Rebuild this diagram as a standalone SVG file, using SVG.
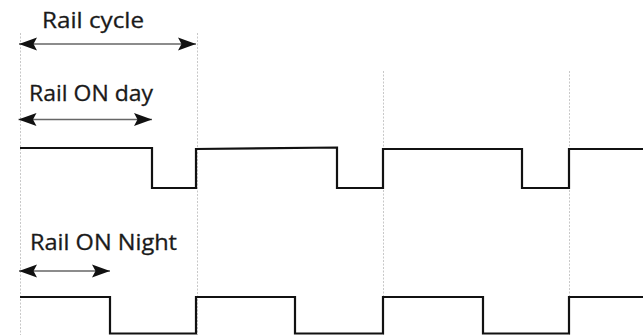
<svg xmlns="http://www.w3.org/2000/svg" width="643" height="335" viewBox="0 0 643 335">
<defs>
<style>
.lbl{font-family:"Open Sans","Liberation Sans",sans-serif;font-size:22px;fill:#1a1a1a;stroke:#1a1a1a;stroke-width:0.3}
.grid{stroke:#c8c8c8;stroke-width:1;stroke-dasharray:2 1.5;fill:none}
.dim{stroke:#666;stroke-width:1.4;fill:none}
.wave{stroke:#111;stroke-width:2.2;fill:none;stroke-linejoin:miter}
</style>
<marker id="ah" viewBox="0 0 18 14" refX="18" refY="7" markerWidth="18" markerHeight="14" markerUnits="userSpaceOnUse" orient="auto-start-reverse">
<path d="M0,0.5 L18,7 L0,13.5 L3.5,7 z" fill="#111"/>
</marker>
</defs>
<rect width="643" height="335" fill="#ffffff"/>
<g id="gridlines">
<line class="grid" x1="20.5" y1="33" x2="20.5" y2="335"/>
<line class="grid" x1="197.5" y1="33" x2="197.5" y2="335"/>
<line class="grid" x1="383.5" y1="71" x2="383.5" y2="335"/>
<line class="grid" x1="569.5" y1="71" x2="569.5" y2="335"/>
</g>
<g id="connectors">
<line class="dim" x1="19" y1="44" x2="196" y2="44" marker-start="url(#ah)" marker-end="url(#ah)"/>
<line class="dim" x1="18.5" y1="119.5" x2="152" y2="119.5" marker-start="url(#ah)" marker-end="url(#ah)"/>
<line class="dim" x1="19" y1="271" x2="110" y2="271" marker-start="url(#ah)" marker-end="url(#ah)"/>
</g>
<g id="label-cycle"><text class="lbl" x="42" y="28" textLength="102" lengthAdjust="spacingAndGlyphs">Rail cycle</text></g>
<g id="label-day"><text class="lbl" x="29" y="101" textLength="124" lengthAdjust="spacingAndGlyphs">Rail ON day</text></g>
<g id="label-night"><text class="lbl" x="30" y="250" textLength="147" lengthAdjust="spacingAndGlyphs">Rail ON Night</text></g>
<g id="wave-day">
<path class="wave" d="M20,148 L152,148 L152,188 L196,188 L196,149 L337,147.5 L337,188 L383,188 L383,149 L522,149 L522,188 L569,188 L569,149 L643,149"/>
</g>
<g id="wave-night">
<path class="wave" d="M20,297 L110,297 L110,333.5 L196,333.5 L196,297 L295,297 L295,333.5 L383,333.5 L383,297 L483,297 L483,333.5 L569,333.5 L569,297 L643,297"/>
</g>
</svg>
